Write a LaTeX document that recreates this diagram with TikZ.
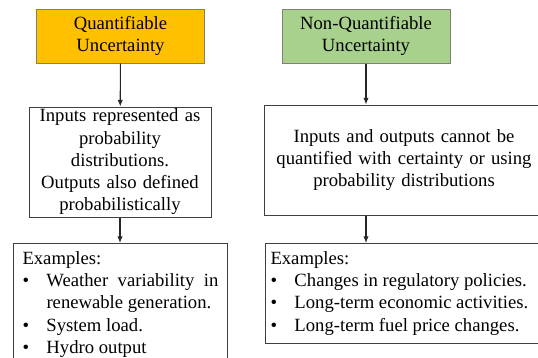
\documentclass[tikz,border=0pt]{standalone}
\usepackage{fontspec}
\setmainfont{Liberation Serif}
\usetikzlibrary{arrows.meta, positioning}
\definecolor{qorange}{HTML}{FFC000}
\definecolor{ngreen}{HTML}{A9D18E}
\definecolor{headline}{HTML}{7F7F72}
\definecolor{boxline}{HTML}{3F3F3F}
\tikzset{
    head/.style = {draw=headline, line width=0.75pt, minimum width=126pt, minimum height=40.5pt, text width=120pt, align=center, inner sep=0pt},
    block/.style = {draw=boxline, line width=0.75pt, minimum height=82.5pt, align=center, inner sep=0pt},
    examples/.style = {draw=boxline, line width=0.75pt, anchor=north west, inner ysep=6pt, align=justify},
    link/.style = {->, draw=black!85, line width=0.8pt}
}
\newcommand{\itm}{\par\hangindent=18pt\hangafter=1\noindent\makebox[18pt][l]{\textbullet}}

\begin{document}
\begin{tikzpicture}[x=0.75pt, y=-0.75pt, >={Latex[length=5pt,width=4pt]},
    font=\fontsize{14}{16.7}\selectfont]
    \useasboundingbox (0,0) rectangle (538,357);
    \clip (0,0) rectangle (538,357);
    % Cajas superiores
    \node [head, fill=qorange] (quant) at (120.5,36) {Quantifiable\\Uncertainty};
    \node [head, fill=ngreen] (nonquant) at (366,36) {Non-Quantifiable\\Uncertainty};
    % Descripciones
    \node [block, minimum width=136.5pt, text width=134pt] (qinfo) at (120,162)
        {Inputs represented as\\probability\\distributions.\\Outputs also defined\\probabilistically};
    \node [block, minimum width=210pt, text width=200pt] (ninfo) at (404,160)
        {Inputs and outputs cannot be\\quantified with certainty or using\\probability distributions};
    % Ejemplos
    \node [examples, inner xsep=6.75pt, text width=147pt] (qex) at (13,243)
        {Examples:
        \itm Weather\hfill variability\hfill in\newline renewable generation.
        \itm System load.
        \itm Hydro output\par\vspace*{10pt}};
    \node [examples, inner xsep=3.75pt, text width=210pt] (nex) at (265,243)
        {Examples:
        \itm Changes in regulatory policies.
        \itm Long-term economic activities.
        \itm Long-term fuel price changes.};
    % Flechas
    \draw [link] (quant) -- (qinfo);
    \draw [link] (qinfo) -- (qinfo.south |- qex.north);
    \draw [link] (nonquant) -- (nonquant.south |- ninfo.north);
    \draw [link] (nonquant.south |- ninfo.south) -- (nonquant.south |- nex.north);
\end{tikzpicture}
\end{document}
